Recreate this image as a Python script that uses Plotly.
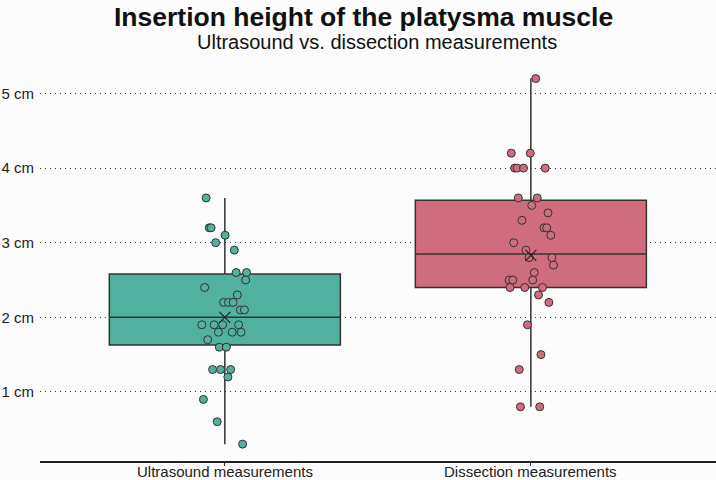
import plotly.graph_objects as go

categories = ["Ultrasound measurements", "Dissection measurements"]

ultrasound_values = [3.6, 3.2, 3.2, 3.1, 3.0, 2.9, 2.6, 2.6, 2.5, 2.4, 2.3,
                     2.2, 2.2, 2.2, 2.1, 2.1, 1.9, 1.9, 1.9, 1.9, 1.8, 1.8, 1.8,
                     1.7, 1.6, 1.6, 1.3, 1.3, 1.3, 1.2, 0.9, 0.6, 0.3]
ultrasound_jitter = [-0.061, -0.051, -0.045, 0.001, -0.030, 0.031, 0.037, 0.071,
                     0.068, -0.066, 0.041, -0.004, 0.012, 0.027, 0.051, 0.064,
                     -0.075, -0.035, -0.007, 0.045, -0.021, 0.024, 0.053, -0.056,
                     -0.018, 0.005, -0.040, -0.014, 0.019, 0.010, -0.070, -0.025, 0.058]

dissection_values = [5.2, 4.2, 4.2, 4.0, 4.0, 4.0, 4.0, 3.6, 3.6, 3.5, 3.4, 3.3,
                     3.2, 3.2, 3.1, 3.0, 2.9, 2.8, 2.8, 2.7, 2.6, 2.5, 2.5, 2.5,
                     2.4, 2.4, 2.4, 2.3, 2.2, 1.9, 1.5, 1.3, 0.8, 0.8]
dissection_jitter = [0.016, -0.064, -0.002, -0.053, -0.045, -0.024, 0.047, -0.041,
                     0.021, 0.003, 0.056, -0.029, 0.043, 0.052, 0.065, -0.056,
                     -0.016, -0.006, 0.069, 0.074, 0.011, 0.006, -0.071, -0.059,
                     -0.068, -0.020, 0.038, 0.025, 0.059, -0.011, 0.033, -0.038,
                     -0.034, 0.029]

# box statistics as drawn
box_q1 = [1.63, 2.40]
box_median = [2.00, 2.85]
box_q3 = [2.58, 3.57]
box_low = [0.30, 0.80]
box_high = [3.60, 5.20]
box_mean = [2.00, 2.83]

tick_values = [1, 2, 3, 4, 5]
tick_labels = ["1 cm", "2 cm", "3 cm", "4 cm", "5 cm"]

fill_colors = ["#52b09e", "#cf6d7f"]
edge = "#333333"

fig = go.Figure()
values_list = [ultrasound_values, dissection_values]
jitter_list = [ultrasound_jitter, dissection_jitter]

for i in range(2):
    fig.add_trace(go.Box(
        x=[i], q1=[box_q1[i]], median=[box_median[i]], q3=[box_q3[i]],
        lowerfence=[box_low[i]], upperfence=[box_high[i]],
        fillcolor=fill_colors[i], line=dict(color=edge, width=1.5),
        width=0.755, boxpoints=False, whiskerwidth=0, showlegend=False,
        hoverinfo="skip",
    ))
for i in range(2):
    fig.add_trace(go.Scatter(
        x=[i + j for j in jitter_list[i]], y=values_list[i], mode="markers",
        marker=dict(size=8, color=fill_colors[i], line=dict(color=edge, width=1)),
        showlegend=False,
    ))
fig.add_trace(go.Scatter(
    x=[0, 1], y=box_mean, mode="markers",
    marker=dict(symbol="x-thin", size=11, line=dict(color="#222222", width=1.2)),
    showlegend=False,
))

category_labels = [
    dict(text=name, xref="x", yref="paper", x=i, y=0, yanchor="middle", yshift=-10,
         borderpad=0, showarrow=False, font=dict(size=15, color="#222222"))
    for i, name in enumerate(categories)
]

fig.update_layout(
    width=716, height=480,
    margin=dict(l=40, r=0, t=65, b=19),
    paper_bgcolor="#fcfcfc", plot_bgcolor="#fcfcfc",
    font=dict(family="Liberation Sans, Arial, sans-serif", size=15, color="#222222"),
    xaxis=dict(
        tickvals=[0, 1], showticklabels=False, range=[-0.604, 1.605],
        showline=True, linecolor="#222222", linewidth=1.5,
        ticks="outside", ticklen=3, tickcolor="#333333", automargin=False,
        showgrid=False, zeroline=False,
    ),
    yaxis=dict(
        tickvals=tick_values, ticktext=tick_labels, range=[0.074, 5.382],
        showgrid=True, gridcolor="#333333", griddash="1px,4px", gridwidth=1.2,
        zeroline=False, showline=False, ticks="", ticklabelstandoff=5, automargin=False,
        tickfont=dict(size=15, color="#222222"),
    ),
    annotations=[
        dict(text="<b>Insertion height of the platysma muscle</b>", xref="paper", yref="paper",
             x=0.479, y=1.0, yanchor="middle", yshift=48, showarrow=False,
             font=dict(size=26.5, color="#111111")),
        dict(text="Ultrasound vs. dissection measurements", xref="paper", yref="paper",
             x=0.499, y=1.0, yanchor="middle", yshift=23, showarrow=False,
             font=dict(size=20, color="#111111")),
    ] + category_labels,
)

fig.write_html("out.html")
